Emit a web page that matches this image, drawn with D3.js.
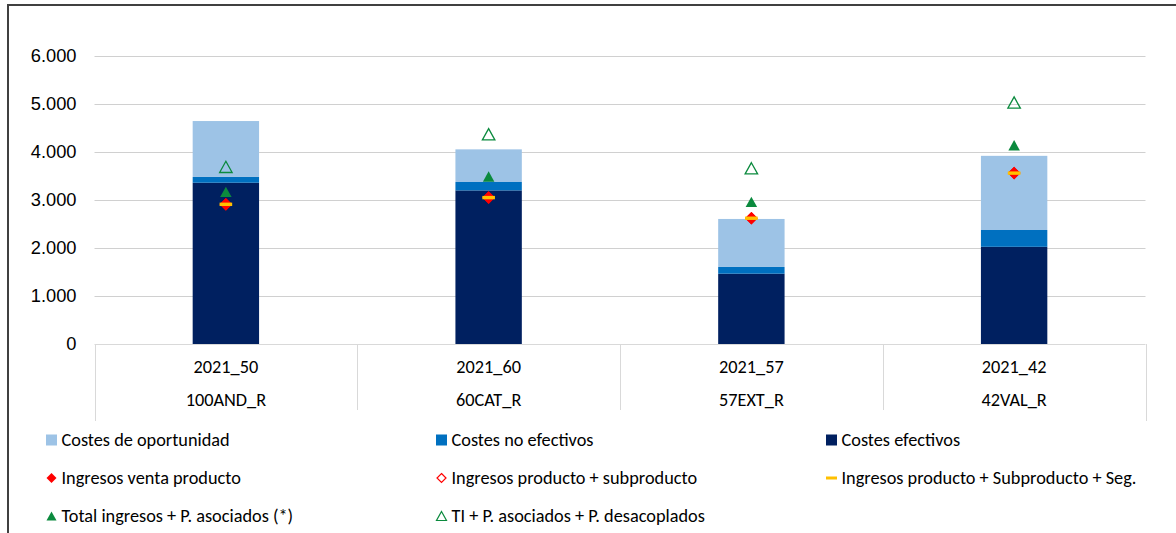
<!DOCTYPE html>
<html><head><meta charset="utf-8">
<script src="https://cdn.jsdelivr.net/npm/d3@7"></script>
<style>
html,body{margin:0;padding:0;background:#fff;}
svg{display:block;font-family:Carlito, Calibri, Lato, "Noto Sans", sans-serif;}
</style></head>
<body><svg id="chart" width="1176" height="533"></svg>
<script>
const years = ["2021_50", "2021_60", "2021_57", "2021_42"];
const regions = ["100AND_R", "60CAT_R", "57EXT_R", "42VAL_R"];
const costesEfectivos = [3360, 3200, 1465, 2025];
const costesNoEfectivos = [120, 175, 140, 350];
const costesOportunidad = [1165, 680, 1000, 1545];
const ingresosVenta = [2910, 3050, 2620, 3560];
const ingresosProdSub = [2910, 3050, 2620, 3560];
const ingresosProdSubSeg = [2910, 3050, 2620, 3560];
const totalIngresos = [3170, 3490, 2960, 4140];
const tiDesacoplados = [3690, 4370, 3660, 5030];
const yTicks = [0, 1000, 2000, 3000, 4000, 5000, 6000];

const C = {light:"#9DC3E6", mid:"#0070C0", dark:"#002060", red:"#FF0000", yellow:"#FFC000", green:"#0B8A3E"};
const FS = 18.3;

const svg = d3.select("#chart");
const x = d3.scaleBand().domain(years).range([94.5, 1145.5]).paddingInner(0).paddingOuter(0);
const y = d3.scaleLinear().domain([0, 6000]).range([344, 56]);
const fmt = v => d3.format(",")(v).replace(/,/g, ".");

// outer border
svg.append("rect").attr("x", 8).attr("y", 5).attr("width", 1180).attr("height", 540)
  .attr("fill", "none").attr("stroke", "#404040").attr("stroke-width", 2);

// grid
const yAxis = d3.axisLeft(y).tickValues(yTicks).tickSize(0).tickPadding(18).tickFormat(fmt);
const gy = svg.append("g").attr("transform", "translate(94.5,0)").call(yAxis);
gy.select(".domain").remove();
gy.selectAll("text").attr("font-size", FS).attr("fill", "#000").attr("font-family", null);
svg.append("g").selectAll("line").data(yTicks.filter(d => d > 0)).join("line")
  .attr("x1", 94.5).attr("x2", 1145.5).attr("y1", d => Math.round(y(d)) + 0.5).attr("y2", d => Math.round(y(d)) + 0.5)
  .attr("stroke", "#D0D0D0").attr("stroke-width", 1);

// category axis (multi-level)
const gx = svg.append("g");
gx.append("line").attr("x1", 94.5).attr("x2", 1145.5).attr("y1", y(0) + 0.5).attr("y2", y(0) + 0.5)
  .attr("stroke", "#D9D9D9").attr("stroke-width", 1);
const bounds = years.map(d => x(d)).concat([x(years[years.length - 1]) + x.bandwidth()]);
gx.selectAll("line.div").data(bounds).join("line").attr("class", "div")
  .attr("x1", d => Math.round(d) + 0.5).attr("x2", d => Math.round(d) + 0.5)
  .attr("y1", y(0)).attr("y2", (d, i) => (i === 0 || i === bounds.length - 1) ? 421 : 410)
  .attr("stroke", "#D9D9D9").attr("stroke-width", 1);
gx.selectAll("text.yr").data(years).join("text").attr("class", "yr")
  .attr("x", d => x(d) + x.bandwidth() / 2).attr("y", 367).attr("dy", "0.35em")
  .attr("text-anchor", "middle").attr("font-size", FS).text(d => d);
gx.selectAll("text.rg").data(regions).join("text").attr("class", "rg")
  .attr("x", (d, i) => x(years[i]) + x.bandwidth() / 2).attr("y", 400).attr("dy", "0.35em")
  .attr("text-anchor", "middle").attr("font-size", FS).text(d => d);

// stacked bars
const rows = years.map((k, i) => ({k, ef: costesEfectivos[i], ne: costesNoEfectivos[i], op: costesOportunidad[i]}));
const stack = d3.stack().keys(["ef", "ne", "op"])(rows);
const barColors = {ef: C.dark, ne: C.mid, op: C.light};
const bw = 66.4;
svg.append("g").selectAll("g").data(stack).join("g").attr("fill", s => barColors[s.key])
  .selectAll("rect").data(s => s).join("rect")
  .attr("x", d => x(d.data.k) + x.bandwidth() / 2 - bw / 2).attr("width", bw)
  .attr("y", d => y(d[1])).attr("height", d => y(d[0]) - y(d[1]));

// markers
const cx = i => x(years[i]) + x.bandwidth() / 2;
const tri = (s) => { const h = s * 0.9; return `M0,${-h/2}L${s/2},${h/2}L${-s/2},${h/2}Z`; };
const dia = (s) => `M0,${-s/2}L${s/2},0L0,${s/2}L${-s/2},0Z`;
const m = svg.append("g");
m.selectAll("path.ti").data(tiDesacoplados).join("path").attr("class", "ti")
  .attr("d", tri(12.5)).attr("transform", (d, i) => `translate(${cx(i)},${y(d)})`)
  .attr("fill", "none").attr("stroke", C.green).attr("stroke-width", 1.3);
m.selectAll("path.tot").data(totalIngresos).join("path").attr("class", "tot")
  .attr("d", tri(11.5)).attr("transform", (d, i) => `translate(${cx(i)},${y(d)})`)
  .attr("fill", C.green);
m.selectAll("path.iv").data(ingresosVenta).join("path").attr("class", "iv")
  .attr("d", dia(12.5)).attr("transform", (d, i) => `translate(${cx(i)},${y(d)})`)
  .attr("fill", C.red);
m.selectAll("path.ips").data(ingresosProdSub).join("path").attr("class", "ips")
  .attr("d", dia(11)).attr("transform", (d, i) => `translate(${cx(i)},${y(d)})`)
  .attr("fill", "none").attr("stroke", C.red).attr("stroke-width", 1.2);
m.selectAll("rect.seg").data(ingresosProdSubSeg).join("rect").attr("class", "seg")
  .attr("x", (d, i) => cx(i) - 6.3).attr("y", d => y(d) - 1.7).attr("width", 12.6).attr("height", 3.4)
  .attr("fill", C.yellow);

// legend
const legend = [
  {label: "Costes de oportunidad", type: "sq", color: C.light},
  {label: "Costes no efectivos", type: "sq", color: C.mid},
  {label: "Costes efectivos", type: "sq", color: C.dark},
  {label: "Ingresos venta producto", type: "dia", color: C.red},
  {label: "Ingresos producto + subproducto", type: "diaO", color: C.red},
  {label: "Ingresos producto + Subproducto + Seg.", type: "dash", color: C.yellow},
  {label: "Total ingresos + P. asociados (*)", type: "tri", color: C.green},
  {label: "TI + P. asociados + P. desacoplados", type: "triO", color: C.green}
];
const colX = [46, 436, 826];
const rowY = [440, 478, 516];
const lg = svg.append("g").selectAll("g").data(legend).join("g")
  .attr("transform", (d, i) => `translate(${colX[i % 3]},${rowY[Math.floor(i / 3)]})`);
lg.each(function(d) {
  const g = d3.select(this);
  if (d.type === "sq") g.append("rect").attr("x", 0).attr("y", -5.5).attr("width", 11).attr("height", 11).attr("fill", d.color);
  if (d.type === "dia") g.append("path").attr("d", dia(10)).attr("transform", "translate(5.5,0)").attr("fill", d.color);
  if (d.type === "diaO") g.append("path").attr("d", dia(9)).attr("transform", "translate(5.5,0)").attr("fill", "none").attr("stroke", d.color).attr("stroke-width", 1.2);
  if (d.type === "dash") g.append("rect").attr("x", 0).attr("y", -1.5).attr("width", 11).attr("height", 3).attr("fill", d.color);
  if (d.type === "tri") g.append("path").attr("d", tri(10)).attr("transform", "translate(5.5,0)").attr("fill", d.color);
  if (d.type === "triO") g.append("path").attr("d", tri(10)).attr("transform", "translate(5.5,0)").attr("fill", "none").attr("stroke", d.color).attr("stroke-width", 1.2);
  g.append("text").attr("x", 15.5).attr("dy", "0.35em").attr("font-size", FS).text(d.label);
});
</script></body></html>
